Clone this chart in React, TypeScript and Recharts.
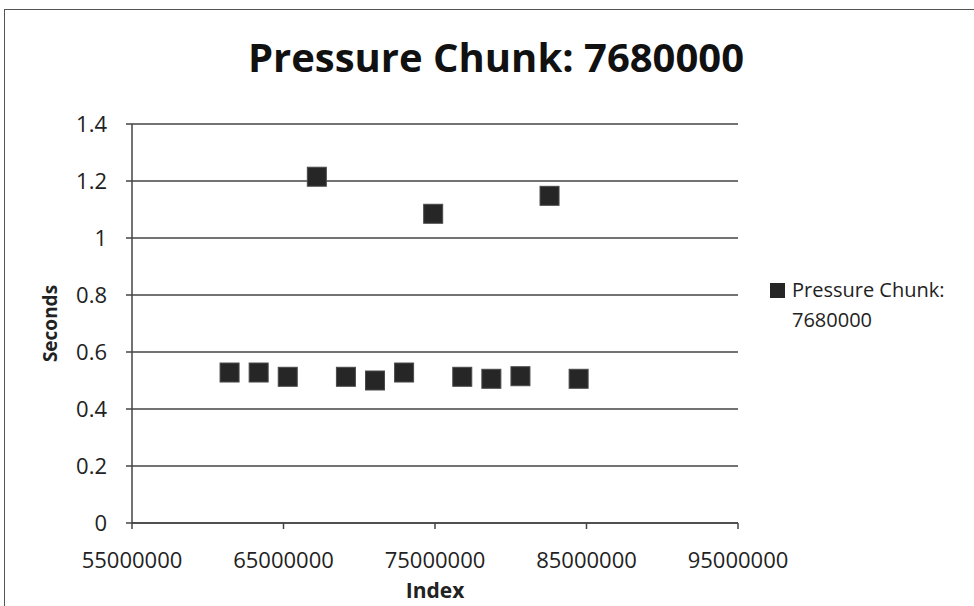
import React from "react";
import { ScatterChart, Scatter, XAxis, YAxis, CartesianGrid, Label } from "recharts";

const indexValues = [61440000, 63360000, 65280000, 67200000, 69120000, 71040000, 72960000, 74880000, 76800000, 78720000, 80640000, 82560000, 84480000];
const secondsValues = [0.528, 0.528, 0.513, 1.215, 0.513, 0.5, 0.528, 1.085, 0.513, 0.506, 0.515, 1.148, 0.506];
const xTicks = [55000000, 65000000, 75000000, 85000000, 95000000];
const yTicks = [0, 0.2, 0.4, 0.6, 0.8, 1, 1.2, 1.4];
const seriesName = "Pressure Chunk: 7680000";
const legendLines = ["Pressure Chunk:", "7680000"];

const data = indexValues.map((x, i) => ({ index: x, seconds: secondsValues[i] }));

const FONT = "'Open Sans', Lato, sans-serif";
const INK = "#222";

const SquareDot = (props: any) => {
  const { cx, cy } = props;
  return <rect x={cx - 9.5} y={cy - 9.5} width={19} height={19} fill="#262626" stroke="#4a4a4a" strokeWidth={1} />;
};

export default function App() {
  return (
    <div style={{ position: "absolute", left: 0, top: 0, width: 974, height: 606, background: "#fff", fontFamily: FONT, overflow: "hidden" }}>
      <div style={{ position: "absolute", left: 4, top: 9, width: 980, height: 610, border: "1.5px solid #555", boxSizing: "border-box" }} />
      <ScatterChart width={974} height={606} margin={{ top: 124, left: 72, right: 236, bottom: 43 }} style={{ position: "absolute", left: 0, top: 0 }}>
        <CartesianGrid horizontal vertical={false} stroke="#444" strokeWidth={1.5} />
        <XAxis
          type="number"
          dataKey="index"
          domain={[55000000, 95000000]}
          ticks={xTicks}
          interval={0}
          height={40}
          stroke="#444"
          strokeWidth={1.5}
          tickSize={6}
          tickMargin={23}
          tick={{ fill: INK, fontSize: 22, fontFamily: FONT }}
        >
          <Label value="Index" position="insideBottom" offset={-35} style={{ fill: INK, fontSize: 21, fontWeight: 700, fontFamily: FONT }} />
        </XAxis>
        <YAxis
          type="number"
          dataKey="seconds"
          domain={[0, 1.4]}
          ticks={yTicks}
          interval={0}
          width={60}
          stroke="#444"
          strokeWidth={1.5}
          tickSize={6}
          tickMargin={19}
          tick={{ fill: INK, fontSize: 22, fontFamily: FONT }}
        >
          <Label value="Seconds" angle={-90} position="insideLeft" offset={-22} style={{ fill: INK, fontSize: 19, fontWeight: 700, fontFamily: FONT, textAnchor: "middle" }} />
        </YAxis>
        <Scatter name={seriesName} data={data} shape={SquareDot} isAnimationActive={false} />
      </ScatterChart>
      <svg width={974} height={606} style={{ position: "absolute", left: 0, top: 0, pointerEvents: "none" }}>
        <text x={496} y={72} textAnchor="middle" fontSize={40} fontWeight={700} fill="#111" fontFamily={FONT}>
          {seriesName}
        </text>
        <rect x={770} y={283} width={15} height={15} fill="#262626" />
        {legendLines.map((line, i) => (
          <text key={line} x={792} y={297 + i * 30} fontSize={20} fill={INK} fontFamily={FONT}>
            {line}
          </text>
        ))}
      </svg>
    </div>
  );
}
